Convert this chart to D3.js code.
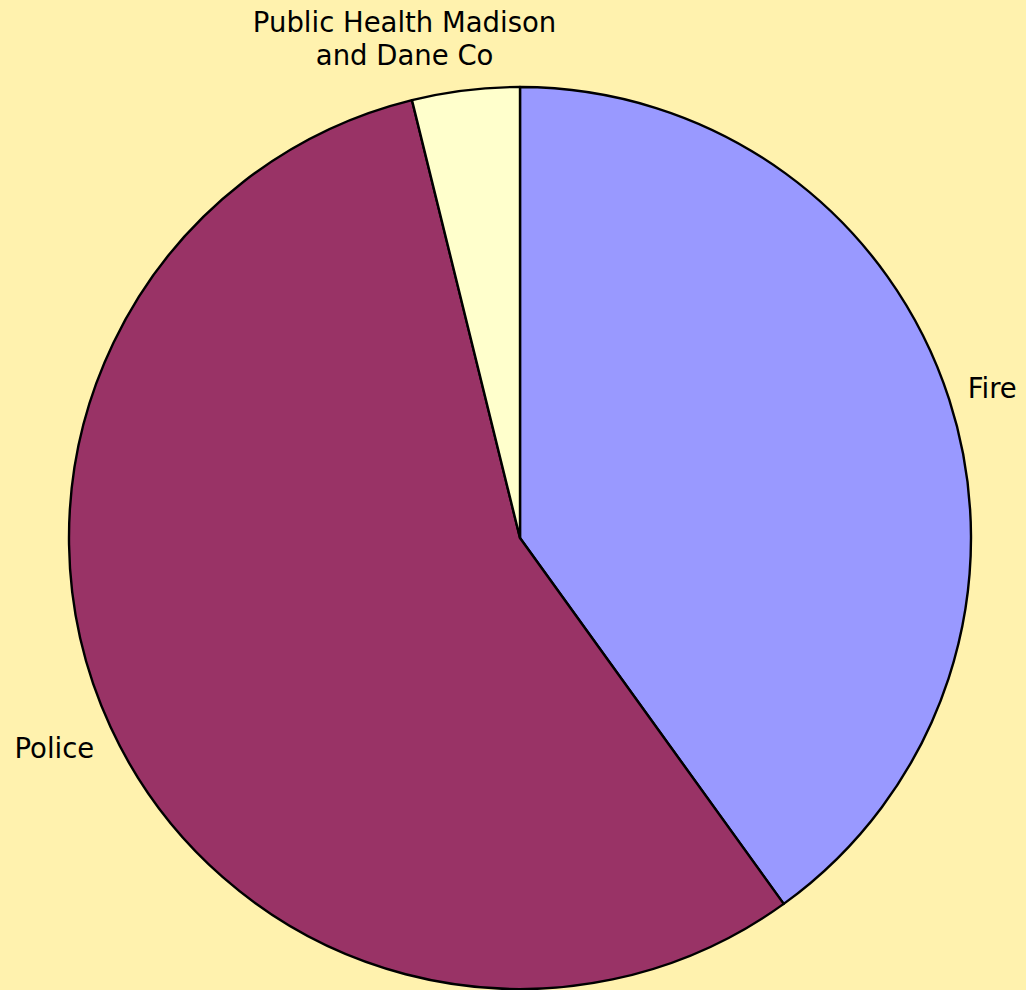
<!DOCTYPE html>
<html>
<head>
<meta charset="utf-8">
<script src="https://cdn.jsdelivr.net/npm/d3@7"></script>
<style>
  html, body { margin: 0; padding: 0; background: #fff2ae; }
  svg { display: block; }
</style>
</head>
<body>
<div class="canvas"></div>
<script>
const categories = ['Fire', 'Police', 'Public Health Madison and Dane Co']
const labelLines = [['Fire'], ['Police'], ['Public Health Madison', 'and Dane Co']]
const shares = [40.06, 56.09, 3.85]
const sliceColors = ['#9999ff', '#993366', '#ffffcc']

const data = categories.map((name, i) => ({ name, value: shares[i], lines: labelLines[i] }))

const dims = { width: 1026, height: 990, radius: 451 }
const cent = { x: 520, y: 538 }

const svg = d3.select('.canvas')
    .append('svg')
    .attr('width', dims.width)
    .attr('height', dims.height)

svg.append('rect')
    .attr('width', dims.width)
    .attr('height', dims.height)
    .attr('fill', '#fff2ae')

const graph = svg.append('g')
    .attr('transform', `translate(${cent.x}, ${cent.y})`)

const pie = d3.pie()
    .sort(null)
    .value(d => d.value)

const arcPath = d3.arc()
    .outerRadius(dims.radius)
    .innerRadius(0)

const colors = d3.scaleOrdinal()
    .domain(categories)
    .range(sliceColors)

const arcs = pie(data)

graph.selectAll('path')
    .data(arcs)
    .enter()
    .append('path')
    .attr('d', arcPath)
    .attr('fill', d => colors(d.data.name))
    .attr('stroke', '#000')
    .attr('stroke-width', 2.4)
    .attr('stroke-linejoin', 'round')

// labels: placed just outside the rim, box pulled away from the pie
const fontSize = 27.5
const lineH = 32.5
const labelR = dims.radius + 20

const labels = graph.selectAll('g.label')
    .data(arcs)
    .enter()
    .append('g')
    .attr('class', 'label')

labels.each(function(d) {
    const g = d3.select(this)
    const mid = (d.startAngle + d.endAngle) / 2
    const s = Math.sin(mid)
    const c = Math.cos(mid)
    const px = s * labelR
    const py = -c * labelR

    const txt = g.append('text')
        .attr('font-family', 'DejaVu Sans, Verdana, sans-serif')
        .attr('font-size', fontSize)
        .attr('fill', '#000')
        .attr('text-anchor', 'middle')

    d.data.lines.forEach((line, i) => {
        txt.append('tspan')
            .attr('x', 0)
            .attr('y', i * lineH)
            .text(line)
    })

    const bb = txt.node().getBBox()
    const fx = 0.5 - 0.5 * Math.sign(s) * Math.pow(Math.abs(s), 0.45)
    const fy = c < 0 ? 0.5 + 0.9 * c : 0.5 + 0.5 * c
    const boxLeft = px - bb.width * fx
    const boxTop = py - bb.height * Math.max(0, Math.min(1, fy))
    g.attr('transform', `translate(${boxLeft - bb.x}, ${boxTop - bb.y})`)
})
</script>
</body>
</html>
